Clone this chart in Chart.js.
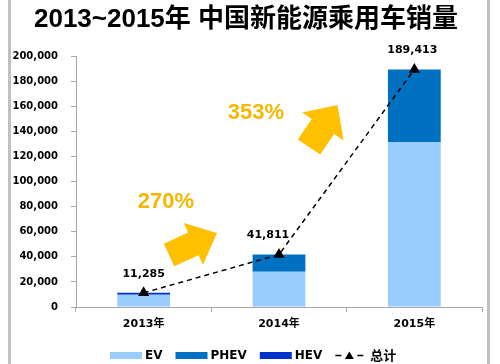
<!DOCTYPE html>
<html>
<head>
<meta charset="utf-8">
<script src="https://cdn.jsdelivr.net/npm/chart.js@4/dist/chart.umd.min.js"></script>
<style>
  html, body { margin: 0; padding: 0; background: #fff; }
  #wrap { position: relative; width: 500px; height: 364px; }
</style>
</head>
<body>
<div id="wrap"><canvas id="salesChart" width="500" height="364"></canvas></div>
<script>
// данные
const years = ["2013年", "2014年", "2015年"];
const evSales = [9800, 28100, 131600];
const phevSales = [0, 13711, 57813];
const hevSales = [1485, 0, 0];
const totalSales = [11285, 41811, 189413];
const growthLabels = ["270%", "353%"];

const yTicks = { min: 0, max: 200000, step: 20000 };

const numFont = "'DejaVu Sans', Verdana, 'Noto Sans CJK SC', sans-serif";
const cjkFont = "'Liberation Sans', Arial, 'Noto Sans CJK SC', sans-serif";

// рамка по бокам + стрелки роста
const decorPlugin = {
  id: "decor",
  beforeDraw(chart) {
    const c = chart.ctx;
    c.save();
    c.fillStyle = "#c0c0c0";
    c.fillRect(8, 0, 3, chart.height);
    c.fillRect(487, 0, 3, chart.height);
    c.restore();
  },
  afterDatasetsDraw(chart) {
    const c = chart.ctx;
    function arrow(x0, y0, x1, y1, sw, hw, hl) {
      const len = Math.hypot(x1 - x0, y1 - y0);
      const ux = (x1 - x0) / len, uy = (y1 - y0) / len;
      const nx = -uy, ny = ux;
      const bx = x1 - ux * hl, by = y1 - uy * hl;
      c.beginPath();
      c.moveTo(x0 + nx * sw / 2, y0 + ny * sw / 2);
      c.lineTo(bx + nx * sw / 2, by + ny * sw / 2);
      c.lineTo(bx + nx * hw / 2, by + ny * hw / 2);
      c.lineTo(x1, y1);
      c.lineTo(bx - nx * hw / 2, by - ny * hw / 2);
      c.lineTo(bx - nx * sw / 2, by - ny * sw / 2);
      c.lineTo(x0 - nx * sw / 2, y0 - ny * sw / 2);
      c.closePath();
      c.fill();
    }
    c.save();
    c.fillStyle = "#FFC000";
    arrow(169, 255, 217, 233, 25, 46, 26);
    arrow(309, 147, 337.5, 105, 27, 50, 26);
    c.fillStyle = "#F5B800";
    c.font = "bold 22px 'Liberation Sans', Arial, sans-serif";
    c.textAlign = "center";
    c.textBaseline = "middle";
    c.fillText(growthLabels[0], 166, 202);
    c.fillText(growthLabels[1], 256, 113);
    c.restore();

    // подписи итогов над точками
    const lineMeta = chart.getDatasetMeta(3);
    const shift = [0, -11, -2];
    c.save();
    c.fillStyle = "#000";
    c.font = "bold 11px " + numFont;
    c.textAlign = "center";
    c.textBaseline = "middle";
    lineMeta.data.forEach((pt, i) => {
      c.fillText(totalSales[i].toLocaleString("en-US"), pt.x + shift[i], pt.y - 19);
    });
    c.restore();
  },
  afterDraw(chart) {
    // легенда внизу
    const c = chart.ctx;
    c.save();
    c.font = "bold 12px " + numFont;
    c.textBaseline = "middle";
    let x = 110;
    const y = 355.5;
    chart.data.datasets.forEach((ds) => {
      if (ds.type === "line") {
        c.strokeStyle = "#000";
        c.lineWidth = 1.5;
        c.beginPath();
        c.moveTo(x, y); c.lineTo(x + 6, y);
        c.moveTo(x + 22, y); c.lineTo(x + 28, y);
        c.stroke();
        c.fillStyle = "#000";
        c.beginPath();
        c.moveTo(x + 14, y - 4);
        c.lineTo(x + 18.5, y + 3.5);
        c.lineTo(x + 9.5, y + 3.5);
        c.closePath();
        c.fill();
        c.font = "bold 13px 'Noto Sans CJK SC', sans-serif";
        c.fillText(ds.label, x + 35, y);
        return;
      }
      c.fillStyle = ds.backgroundColor;
      c.fillRect(x, y - 3.5, 32, 7);
      c.fillStyle = "#000";
      c.fillText(ds.label, x + 35, y);
      x += 35 + c.measureText(ds.label).width + 13;
    });
    c.restore();
  }
};

const ctx = document.getElementById("salesChart").getContext("2d");

new Chart(ctx, {
  data: {
    labels: years,
    datasets: [
      { type: "bar", label: "EV", data: evSales, backgroundColor: "#99CCFF", stack: "s", order: 1 },
      { type: "bar", label: "PHEV", data: phevSales, backgroundColor: "#0070C0", stack: "s", order: 1 },
      { type: "bar", label: "HEV", data: hevSales, backgroundColor: "#0033CC", stack: "s", order: 1 },
      {
        type: "line",
        label: "总计",
        data: totalSales,
        stack: "total",
        order: 0,
        borderColor: "#000",
        borderWidth: 1.5,
        borderDash: [5, 4],
        pointStyle: "triangle",
        pointRadius: 5,
        pointBackgroundColor: "#000",
        pointBorderColor: "#000",
        tension: 0
      }
    ]
  },
  options: {
    responsive: false,
    animation: false,
    layout: { padding: { left: 10, right: 18, top: 0, bottom: 0 } },
    datasets: {
      bar: { barPercentage: 0.39, categoryPercentage: 1 }
    },
    scales: {
      x: {
        stacked: true,
        offset: true,
        grid: { offset: true, drawOnChartArea: false, tickLength: 5, color: "#a6a6a6" },
        border: { color: "#a6a6a6" },
        ticks: { color: "#000", font: { family: numFont, size: 11, weight: "bold" }, padding: 6 },
        afterFit: (scale) => { scale.height = 57; }
      },
      y: {
        stacked: true,
        min: yTicks.min,
        max: yTicks.max,
        grid: { drawOnChartArea: false, tickLength: 5, color: "#a6a6a6" },
        border: { color: "#a6a6a6" },
        ticks: {
          stepSize: yTicks.step,
          color: "#000",
          padding: 13,
          font: { family: numFont, size: 10, weight: "bold" },
          callback: (v) => v.toLocaleString("en-US")
        },
        afterFit: (scale) => { scale.width = 66; }
      }
    },
    plugins: {
      legend: { display: false },
      tooltip: { enabled: false },
      title: {
        display: true,
        text: "2013~2015年 中国新能源乘用车销量",
        color: "#000",
        font: { family: cjkFont, size: 26, weight: "bold", lineHeight: 1.2 },
        padding: { top: 4, bottom: 21 }
      }
    }
  },
  plugins: [decorPlugin]
});
</script>
</body>
</html>
